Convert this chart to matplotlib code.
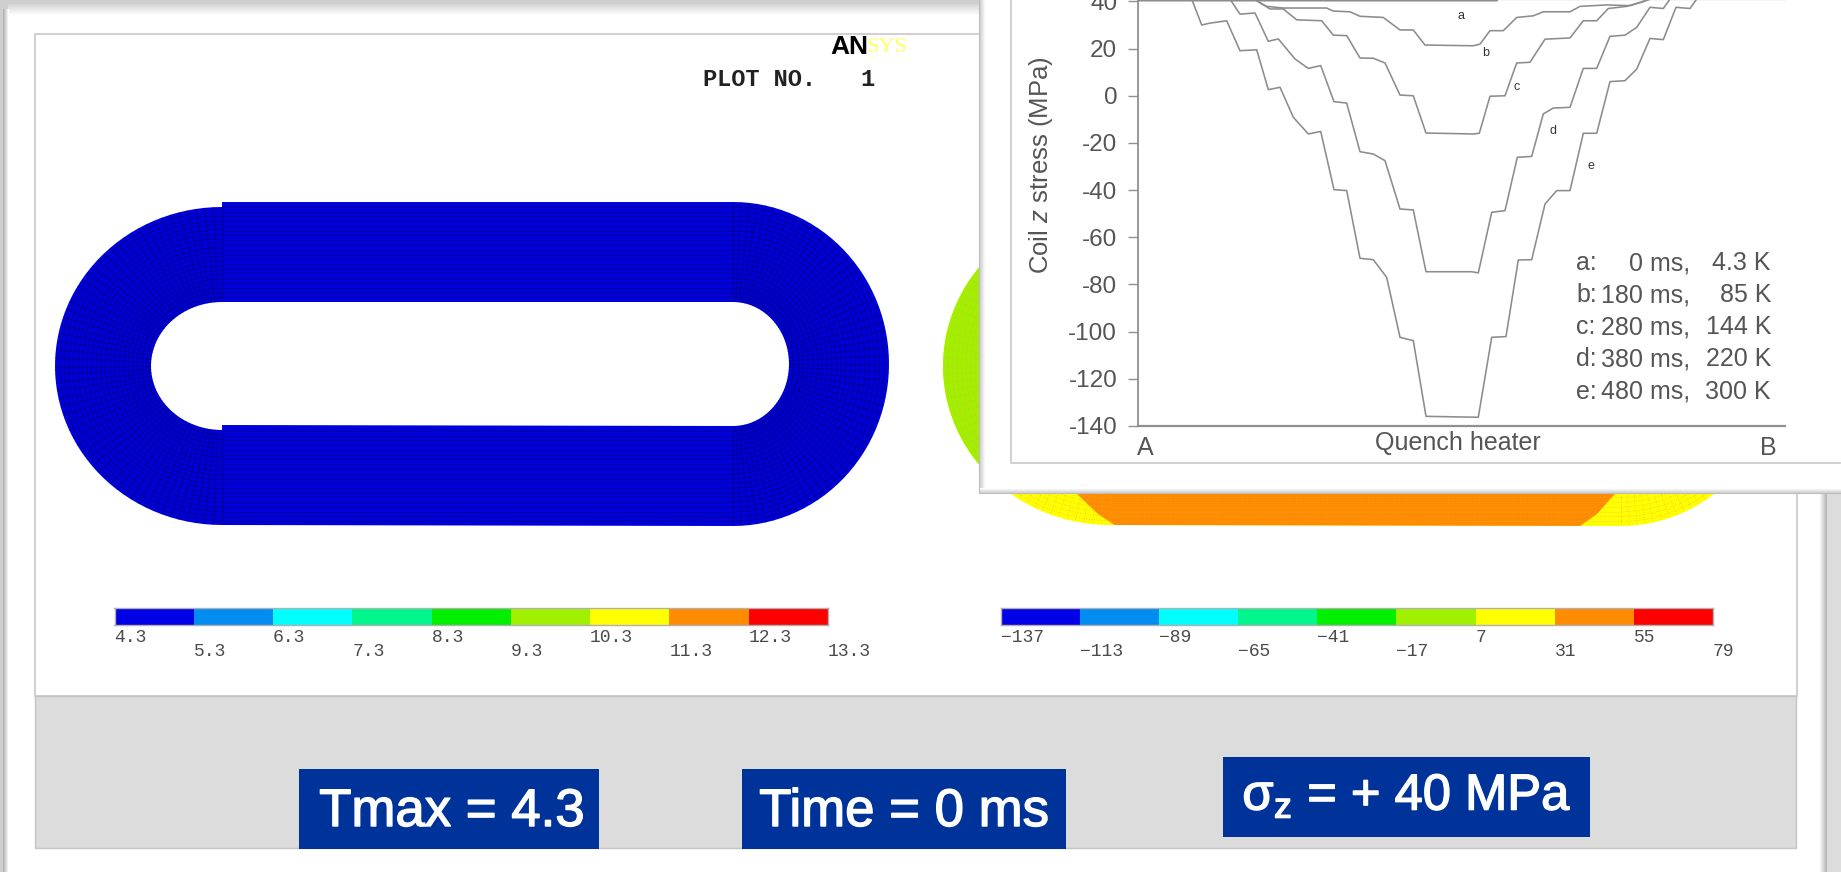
import numpy as np
import matplotlib
matplotlib.use('Agg')
import matplotlib.pyplot as plt
import matplotlib.patheffects as pe
from matplotlib.colors import ListedColormap
from matplotlib.patches import PathPatch, Polygon, Rectangle, FancyBboxPatch
from matplotlib.path import Path

# curves of the inset, position along the coil vs z stress (MPa)
a_x = [0, 359, 360, 647]
a_y = [40.3, 40.3, 40.9, 40.9]
b_x = [118.7, 128.7, 145.3, 188.7, 195.3, 212, 222, 245.3, 262, 275.3, 287, 335.3, 342, 352, 365.3, 378.7, 395.3, 405.3, 432, 442, 468.7, 492, 505.3, 512]
b_y = [40.3, 37.9, 37.2, 37.2, 35.9, 35.6, 33.7, 33.2, 27.9, 27.9, 21.5, 21.2, 21.9, 27.6, 27.6, 33.2, 33.9, 35.6, 35.6, 37.9, 38.5, 38.2, 39.9, 41]
c_x = [118.7, 132, 145.3, 158.7, 183.7, 195.3, 208.7, 222, 235.3, 247, 262, 275.3, 288, 335.3, 341.3, 352, 367, 378.7, 392, 407, 432, 445.3, 458.7, 470.3, 488.7, 502, 512]
c_y = [40.3, 36.8, 36.8, 32.2, 31.8, 25.7, 25.5, 16, 15.9, 13.9, 0.3, 0, -15.8, -16.2, -15.9, -0.2, 0, 13.9, 14.2, 24, 24.5, 31.8, 31.8, 37, 37.9, 39.6, 41]
d_x = [92, 102, 117, 130.3, 140.3, 157, 170.3, 182.7, 196, 208.7, 222, 235.3, 247, 262, 275.3, 288, 333.7, 340.3, 353.7, 367, 379.3, 393.7, 405.3, 415.3, 432, 445.3, 458.7, 472, 487, 498.7, 512, 525.3, 532]
d_y = [41, 34.6, 35.1, 23.1, 24.1, 15.6, 11.6, 12.8, -2.5, -3.1, -23.7, -24.7, -27.5, -48, -48.4, -74.6, -74.6, -75.1, -49.4, -48.7, -26.1, -25.7, -7.7, -5.2, -4.9, 11.6, 11.6, 25.2, 25.7, 29, 37.5, 37, 41]
e_x = [53.7, 63.7, 72, 88.7, 102, 118.7, 130.3, 142, 155.3, 170.3, 182.7, 196, 208.7, 222, 235.3, 248.7, 262, 275.3, 288, 340.3, 353.7, 368, 380.3, 393.7, 407, 418.7, 432, 445.3, 458.7, 472, 487, 498.7, 512, 525.3, 538, 552, 558.7]
e_y = [41, 30, 30.8, 31.8, 19.1, 19.5, 2.6, 3.6, -9.1, -16.2, -15.1, -39.8, -40.2, -68.9, -69.5, -77, -102.4, -103.8, -135.9, -136.3, -102.4, -102.1, -69.6, -69.5, -45.9, -40.2, -40.2, -15.9, -15.9, 6, 6.4, 11.3, 24.3, 23.8, 37.5, 37, 41]

curve_names = ['a', 'b', 'c', 'd', 'e']
name_x = [323, 348, 379, 415, 453]
name_y = [34, 18, 3.8, -15, -29.7]
y_ticks = [40, 20, 0, -20, -40, -60, -80, -100, -120, -140]

legend_names = ['a:', 'b:', 'c:', 'd:', 'e:']
legend_times = ['0 ms,', '180 ms,', '280 ms,', '380 ms,', '480 ms,']
legend_temps = ['4.3 K', '85 K', '144 K', '220 K', '300 K']

temp_levels = [4.3, 5.3, 6.3, 7.3, 8.3, 9.3, 10.3, 11.3, 12.3, 13.3]
temp_labels = ['4.3', '5.3', '6.3', '7.3', '8.3', '9.3', '10.3', '11.3', '12.3', '13.3']
stress_levels = [-137, -113, -89, -65, -41, -17, 7, 31, 55, 79]
stress_labels = ['\u2212137', '\u2212113', '\u221289', '\u221265', '\u221241', '\u221217', '7', '31', '55', '79']
band_colors = ['#0000e6', '#008cf0', '#00ffff', '#00f58c', '#00f000', '#a0f000', '#ffff00', '#ff8c00', '#ff0000']

W, H = 1841, 872
SANS = 'Liberation Sans'
MONO = 'Liberation Mono'
TEXT_GREY = '#555555'
plt.rcParams['font.family'] = [SANS, 'DejaVu Sans']
plt.rcParams['mathtext.fontset'] = 'custom'
plt.rcParams['mathtext.rm'] = SANS
plt.rcParams['mathtext.it'] = SANS + ':italic'
plt.rcParams['axes.unicode_minus'] = False

fig = plt.figure(figsize=(W / 100, H / 100), dpi=100, facecolor='#cfcfcf')


def px_axes(x0, y0, x1, y1, **kw):
    # axes from pixel box, y measured from the top of the image
    return fig.add_axes([x0 / W, 1 - y1 / H, (x1 - x0) / W, (y1 - y0) / H], **kw)


def arc(cx, cy, a, b, start, stop, n=60):
    t = np.radians(np.linspace(start, stop, n))
    return np.column_stack([cx + a * np.cos(t), cy + b * np.sin(t)])


def coil_path(dx):
    # outer outline then inner hole, image y runs downwards
    outer = np.vstack([arc(222 + dx, 366, 167, 159, 270, 90),
                       [[733 + dx, 526]],
                       arc(733 + dx, 364, 156, 162, 90, -90),
                       [[222 + dx, 202], [222 + dx, 207]]])
    inner = np.vstack([arc(222 + dx, 366, 71, 64, 270, 90),
                       [[222 + dx, 425], [733 + dx, 426]],
                       arc(733 + dx, 364, 56, 62, 90, -90),
                       [[222 + dx, 302]]])
    verts = np.vstack([outer, outer[:1], inner[::-1], inner[-1:]])
    codes = [Path.MOVETO] + [Path.LINETO] * (len(outer) - 1) + [Path.CLOSEPOLY]
    codes += [Path.MOVETO] + [Path.LINETO] * (len(inner) - 1) + [Path.CLOSEPOLY]
    return Path(verts, codes)


def coil_mesh(ax, dx, color, lw, alpha, clip, ls='-'):
    # element lines of the FE mesh
    lines = []
    for f in np.linspace(0, 1, 22)[1:-1]:
        a1, b1 = 71 + f * 96, 64 + f * 95
        a2, b2 = 56 + f * 100, 62 + f * 100
        lines.append(arc(222 + dx, 366, a1, b1, 270, 90))
        lines.append(arc(733 + dx, 364, a2, b2, 90, -90))
        lines.append(np.array([[222 + dx, 302 - f * 100], [733 + dx, 302 - f * 100]]))
        lines.append(np.array([[222 + dx, 426 + f * 100], [733 + dx, 426 + f * 100]]))
    for ang in np.arange(90, 271, 3):
        t = np.radians(ang)
        lines.append(np.array([[222 + dx + 71 * np.cos(t), 366 + 64 * np.sin(t)],
                               [222 + dx + 167 * np.cos(t), 366 + 159 * np.sin(t)]]))
        t = np.radians(ang - 180)
        lines.append(np.array([[733 + dx + 56 * np.cos(t), 364 + 62 * np.sin(t)],
                               [733 + dx + 156 * np.cos(t), 364 + 162 * np.sin(t)]]))
    for seg in lines:
        ln, = ax.plot(seg[:, 0], seg[:, 1], color=color, lw=lw, alpha=alpha, ls=ls, zorder=3)
        ln.set_clip_path(clip)


bg = fig.add_axes([0, 0, 1, 1], zorder=0)
bg.set_axis_off()

# page card and its soft inner shadow
bg.add_patch(FancyBboxPatch((10, 10), 1810, 900, boxstyle='round,pad=0,rounding_size=10',
                            mutation_aspect=1, fc='white', ec='none', lw=0, zorder=0))
bg.add_patch(Rectangle((4, 14), 1822, 900, fc='white', ec='none', zorder=0))
bg.imshow(np.linspace(0.84, 1, 12)[:, None], extent=(8, 1826, 16, 4), cmap='gray',
          vmin=0, vmax=1, aspect='auto', zorder=1)
bg.imshow(np.linspace(0.7, 1, 6)[None, :], extent=(3, 9, 872, 10), cmap='gray',
          vmin=0, vmax=1, aspect='auto', zorder=1)
bg.imshow(np.linspace(1, 0.72, 8)[None, :], extent=(1819, 1827, 872, 10), cmap='gray',
          vmin=0, vmax=1, aspect='auto', zorder=1)
bg.add_patch(Rectangle((1827, 0), 20, 872, fc='#dcdcdc', ec='none', zorder=1))

# slide panel and caption band
bg.add_patch(Rectangle((35, 34), 1762, 662, fc='white', ec='#c8c8c8', lw=1.2, zorder=1))
bg.add_patch(Rectangle((35, 696), 1761, 152, fc='#dcdcdc', ec='#c4c4c4', lw=1, zorder=1))

# left coil, uniform temperature
left = PathPatch(coil_path(0), fc='#0000dc', ec='none', zorder=2)
bg.add_patch(left)
coil_mesh(bg, 0, '#000078', 0.8, 0.6, left)

# right coil, stress bands
right = PathPatch(coil_path(888), fc='#ffff00', ec='none', zorder=2)
bg.add_patch(right)
green = Polygon([(930, 300), (985, 262), (985, 470), (930, 430)], fc='#a0f000', ec='none', zorder=2)
bg.add_patch(green)
green.set_clip_path(right)
orange = Polygon([(1060, 470), (1078, 495), (1098, 514), (1116, 526), (1580, 526), (1597, 514), (1614, 495), (1630, 470)],
                 fc='#ff8c00', ec='none', zorder=2)
bg.add_patch(orange)
orange.set_clip_path(right)
coil_mesh(bg, 888, '#e8b040', 0.7, 0.55, right, ls=':')

# header text
bg.text(830, 47, 'AN', color='black', fontsize=19, fontweight='bold', ha='left', va='center', zorder=4)
bg.text(867, 47, 'SYS', color='#ffff66', fontsize=16, family='Liberation Serif', ha='left', va='center', zorder=4)
bg.text(703, 80, 'PLOT NO.', color='#222222', fontsize=17, fontweight='bold', family=MONO, ha='left', va='center', zorder=4)
bg.text(867, 80, '1', color='#222222', fontsize=17, fontweight='bold', family=MONO, ha='center', va='center', zorder=4)

# caption boxes
bold = [pe.withStroke(linewidth=1.0, foreground='white')]
bg.add_patch(Rectangle((299, 769), 300, 80, fc='#003399', ec='none', zorder=3))
bg.add_patch(Rectangle((742, 769), 324, 80, fc='#003399', ec='none', zorder=3))
bg.add_patch(Rectangle((1223, 757), 367, 80, fc='#003399', ec='none', zorder=3))
bg.text(452, 812, 'Tmax = 4.3', color='white', fontsize=38, ha='center', va='center', zorder=4, path_effects=bold)
bg.text(904, 812, 'Time = 0 ms', color='white', fontsize=38, ha='center', va='center', zorder=4, path_effects=bold)
bg.text(1407, 796, r'$\mathrm{\sigma_z}$ = + 40 MPa', color='white', fontsize=36.5, ha='center', va='center', zorder=4, path_effects=bold)

# inset card on top of the slide
bg.add_patch(Rectangle((980, -5), 870, 498, fc='white', ec='#bdbdbd', lw=1.5, zorder=5))
bg.imshow(np.linspace(0.82, 1, 6)[None, :], extent=(980, 986, 490, 0), cmap='gray',
          vmin=0, vmax=1, aspect='auto', zorder=5)
bg.imshow(np.linspace(1, 0.82, 5)[:, None], extent=(980, 1841, 493, 488), cmap='gray',
          vmin=0, vmax=1, aspect='auto', zorder=5)
bg.plot([1011, 1011, 1840], [0, 463, 463], color='#c8c8c8', lw=1.2, zorder=5)
bg.set_xlim(0, W)
bg.set_ylim(H, 0)


def color_bar(x0, x1, levels, labels):
    ax = px_axes(x0, 608, x1, 625, zorder=2)
    ax.pcolormesh(levels, [0, 1], [np.arange(9)], cmap=ListedColormap(band_colors), vmin=0, vmax=8)
    ax.set_xticks([])
    ax.set_yticks([])
    for s in ax.spines.values():
        s.set_color('#b0b0b0')
        s.set_linewidth(1)
    for i, (lev, lab) in enumerate(zip(levels, labels)):
        ax.text(lev, -0.72 if i % 2 == 0 else -1.55, lab, family=MONO, fontsize=13, color='#4a4a4a',
                ha='left', va='center', clip_on=False)


color_bar(114.5, 828, temp_levels, temp_labels)
color_bar(1000.5, 1713, stress_levels, stress_labels)

# inset chart, its top runs off the image
ax = px_axes(1138, 0, 1785, 426, zorder=6)
ax.patch.set_alpha(0)
for xs, ys in [(a_x, a_y), (b_x, b_y), (c_x, c_y), (d_x, d_y), (e_x, e_y)]:
    ax.plot(xs, ys, color='#8c8c8c', lw=1.15, solid_joinstyle='round', clip_on=False)
ax.set_xlim(0, 647)
ax.set_ylim(-140, 40.6)
ax.set_yticks(y_ticks)
ax.set_xticks([])
ax.spines['top'].set_visible(False)
ax.spines['right'].set_visible(False)
ax.spines['left'].set_color('#909090')
ax.spines['bottom'].set_color('#909090')
ax.spines['left'].set_linewidth(1.3)
ax.spines['bottom'].set_linewidth(1.6)
ax.tick_params(axis='y', length=7, width=1, color='#909090', pad=8, labelsize=17.5, labelcolor=TEXT_GREY)
for lab in ax.get_yticklabels():
    lab.set_clip_on(False)
for n, x, y in zip(curve_names, name_x, name_y):
    ax.text(x, y, n, fontsize=9, color='#333333', ha='center', va='center')

fig.text(1041 / W, 1 - 165 / H, r'Coil $z$ stress (MPa)', rotation=90, fontsize=18.5, color=TEXT_GREY,
         ha='center', va='center', zorder=7)
fig.text(1458 / W, 1 - 443 / H, 'Quench heater', fontsize=18, color=TEXT_GREY, ha='center', va='center', zorder=7)
fig.text(1145 / W, 1 - 448 / H, 'A', fontsize=18, color=TEXT_GREY, ha='center', va='center', zorder=7)
fig.text(1768 / W, 1 - 448 / H, 'B', fontsize=18, color=TEXT_GREY, ha='center', va='center', zorder=7)

legend_base = [270, 302, 334, 366, 399]
for py, n, t, k in zip(legend_base, legend_names, legend_times, legend_temps):
    fig.text(1576 / W, 1 - py / H, n, fontsize=18, color=TEXT_GREY, ha='left', va='baseline', zorder=7)
    fig.text(1690 / W, 1 - py / H, t, fontsize=18, color=TEXT_GREY, ha='right', va='baseline', zorder=7)
    fig.text(1771 / W, 1 - py / H, k, fontsize=18, color=TEXT_GREY, ha='right', va='baseline', zorder=7)

fig.savefig('out.png', dpi=100, facecolor=fig.get_facecolor())
print('Saved out.png')
